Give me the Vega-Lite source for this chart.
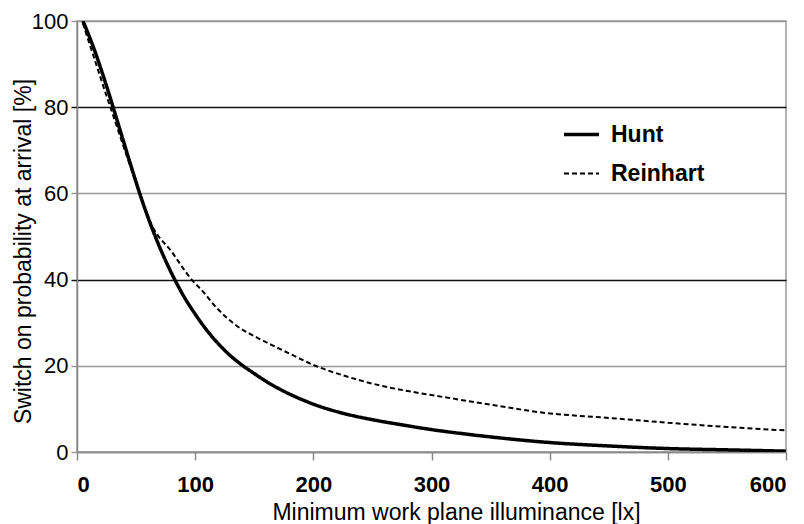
{
  "$schema": "https://vega.github.io/schema/vega-lite/v6.json",
  "width": 709,
  "height": 431,
  "autosize": "none",
  "padding": {"left": 77, "top": 21, "right": 18, "bottom": 72},
  "background": "white",
  "config": {
    "font": "Liberation Sans",
    "view": {"stroke": "#999999", "strokeWidth": 1.5}
  },
  "data": {
    "values": [
      {"model": "Hunt", "lux": 5, "prob": 100},
      {"model": "Hunt", "lux": 10, "prob": 96.7},
      {"model": "Hunt", "lux": 15, "prob": 93.1},
      {"model": "Hunt", "lux": 20, "prob": 89.1},
      {"model": "Hunt", "lux": 25, "prob": 84.9},
      {"model": "Hunt", "lux": 30, "prob": 80.5},
      {"model": "Hunt", "lux": 35, "prob": 76},
      {"model": "Hunt", "lux": 40, "prob": 71.5},
      {"model": "Hunt", "lux": 45, "prob": 67},
      {"model": "Hunt", "lux": 50, "prob": 62.6},
      {"model": "Hunt", "lux": 55, "prob": 58.4},
      {"model": "Hunt", "lux": 60, "prob": 54.5},
      {"model": "Hunt", "lux": 70, "prob": 47.5},
      {"model": "Hunt", "lux": 80, "prob": 41.5},
      {"model": "Hunt", "lux": 90, "prob": 36.3},
      {"model": "Hunt", "lux": 100, "prob": 32},
      {"model": "Hunt", "lux": 110, "prob": 28.2},
      {"model": "Hunt", "lux": 120, "prob": 25},
      {"model": "Hunt", "lux": 130, "prob": 22.3},
      {"model": "Hunt", "lux": 140, "prob": 20.1},
      {"model": "Hunt", "lux": 150, "prob": 18.2},
      {"model": "Hunt", "lux": 160, "prob": 16.4},
      {"model": "Hunt", "lux": 175, "prob": 14.1},
      {"model": "Hunt", "lux": 190, "prob": 12.2},
      {"model": "Hunt", "lux": 200, "prob": 11.1},
      {"model": "Hunt", "lux": 225, "prob": 9.0},
      {"model": "Hunt", "lux": 250, "prob": 7.5},
      {"model": "Hunt", "lux": 275, "prob": 6.3},
      {"model": "Hunt", "lux": 300, "prob": 5.2},
      {"model": "Hunt", "lux": 325, "prob": 4.3},
      {"model": "Hunt", "lux": 350, "prob": 3.5},
      {"model": "Hunt", "lux": 400, "prob": 2.2},
      {"model": "Hunt", "lux": 450, "prob": 1.4},
      {"model": "Hunt", "lux": 500, "prob": 0.8},
      {"model": "Hunt", "lux": 550, "prob": 0.5},
      {"model": "Hunt", "lux": 600, "prob": 0.2},
      {"model": "Reinhart", "lux": 5, "prob": 99.5},
      {"model": "Reinhart", "lux": 10, "prob": 95.2},
      {"model": "Reinhart", "lux": 15, "prob": 91},
      {"model": "Reinhart", "lux": 20, "prob": 86.8},
      {"model": "Reinhart", "lux": 25, "prob": 82.6},
      {"model": "Reinhart", "lux": 30, "prob": 78.6},
      {"model": "Reinhart", "lux": 40, "prob": 70.4},
      {"model": "Reinhart", "lux": 50, "prob": 62.5},
      {"model": "Reinhart", "lux": 55, "prob": 58.4},
      {"model": "Reinhart", "lux": 63, "prob": 52.8},
      {"model": "Reinhart", "lux": 80, "prob": 46.5},
      {"model": "Reinhart", "lux": 97, "prob": 40},
      {"model": "Reinhart", "lux": 107, "prob": 37.1},
      {"model": "Reinhart", "lux": 118, "prob": 33.5},
      {"model": "Reinhart", "lux": 135, "prob": 29.3},
      {"model": "Reinhart", "lux": 152, "prob": 26.6},
      {"model": "Reinhart", "lux": 165, "prob": 24.8},
      {"model": "Reinhart", "lux": 180, "prob": 22.8},
      {"model": "Reinhart", "lux": 200, "prob": 20.2},
      {"model": "Reinhart", "lux": 225, "prob": 17.8},
      {"model": "Reinhart", "lux": 257, "prob": 15.4},
      {"model": "Reinhart", "lux": 285, "prob": 13.9},
      {"model": "Reinhart", "lux": 318, "prob": 12.4},
      {"model": "Reinhart", "lux": 350, "prob": 11},
      {"model": "Reinhart", "lux": 392, "prob": 9.2},
      {"model": "Reinhart", "lux": 450, "prob": 7.9},
      {"model": "Reinhart", "lux": 500, "prob": 6.8},
      {"model": "Reinhart", "lux": 550, "prob": 5.8},
      {"model": "Reinhart", "lux": 600, "prob": 5.0}
    ]
  },
  "mark": {"type": "line", "interpolate": "monotone", "color": "black", "clip": true},
  "encoding": {
    "x": {
      "field": "lux", "type": "quantitative",
      "scale": {"domain": [0, 600], "nice": false},
      "axis": {
        "title": "Minimum work plane illuminance [lx]",
        "titleFontSize": 23, "titleFontWeight": "normal", "titleColor": "black",
        "titleX": 379, "titleY": 67, "titleAlign": "center", "titleBaseline": "alphabetic",
        "values": [0, 100, 200, 300, 400, 500, 600],
        "labelFontSize": 22, "labelFontWeight": "bold", "labelColor": "black", "labelPadding": 14,
        "grid": false, "domainColor": "#888888", "domainWidth": 1.5,
        "tickColor": "#888888", "tickSize": 8, "tickWidth": 1.5
      }
    },
    "y": {
      "field": "prob", "type": "quantitative",
      "scale": {"domain": [0, 100], "nice": false},
      "axis": {
        "title": "Switch on probability at arrival [%]",
        "titleFontSize": 23, "titleFontWeight": "normal", "titleColor": "black",
        "titleX": -47, "titleY": 230, "titleAngle": -90, "titleAlign": "center", "titleBaseline": "alphabetic",
        "values": [0, 20, 40, 60, 80, 100],
        "labelFontSize": 22, "labelColor": "black", "labelPadding": 3,
        "grid": true,
        "gridColor": {"condition": {"test": "datum.value == 40 || datum.value == 80", "value": "#111111"}, "value": "#999999"},
        "gridWidth": 1.5, "gridOpacity": 1,
        "domainColor": "#888888", "domainWidth": 1.5,
        "tickColor": {"condition": {"test": "datum.value == 40 || datum.value == 80", "value": "#111111"}, "value": "#999999"},
        "tickSize": 6, "tickWidth": 1.5
      }
    },
    "strokeDash": {
      "field": "model", "type": "nominal",
      "scale": {"domain": ["Hunt", "Reinhart"], "range": [[1, 0], [5, 3]]},
      "legend": {
        "title": null, "orient": "none", "legendX": 485, "legendY": 94,
        "symbolType": "stroke", "symbolSize": 1225, "symbolStrokeColor": "black",
        "labelFontSize": 23, "labelFontWeight": "bold", "labelColor": "black",
        "labelOffset": 10, "rowPadding": 8, "padding": 0
      }
    },
    "strokeWidth": {
      "field": "model", "type": "nominal",
      "scale": {"domain": ["Hunt", "Reinhart"], "range": [3.5, 2]}
    }
  }
}
